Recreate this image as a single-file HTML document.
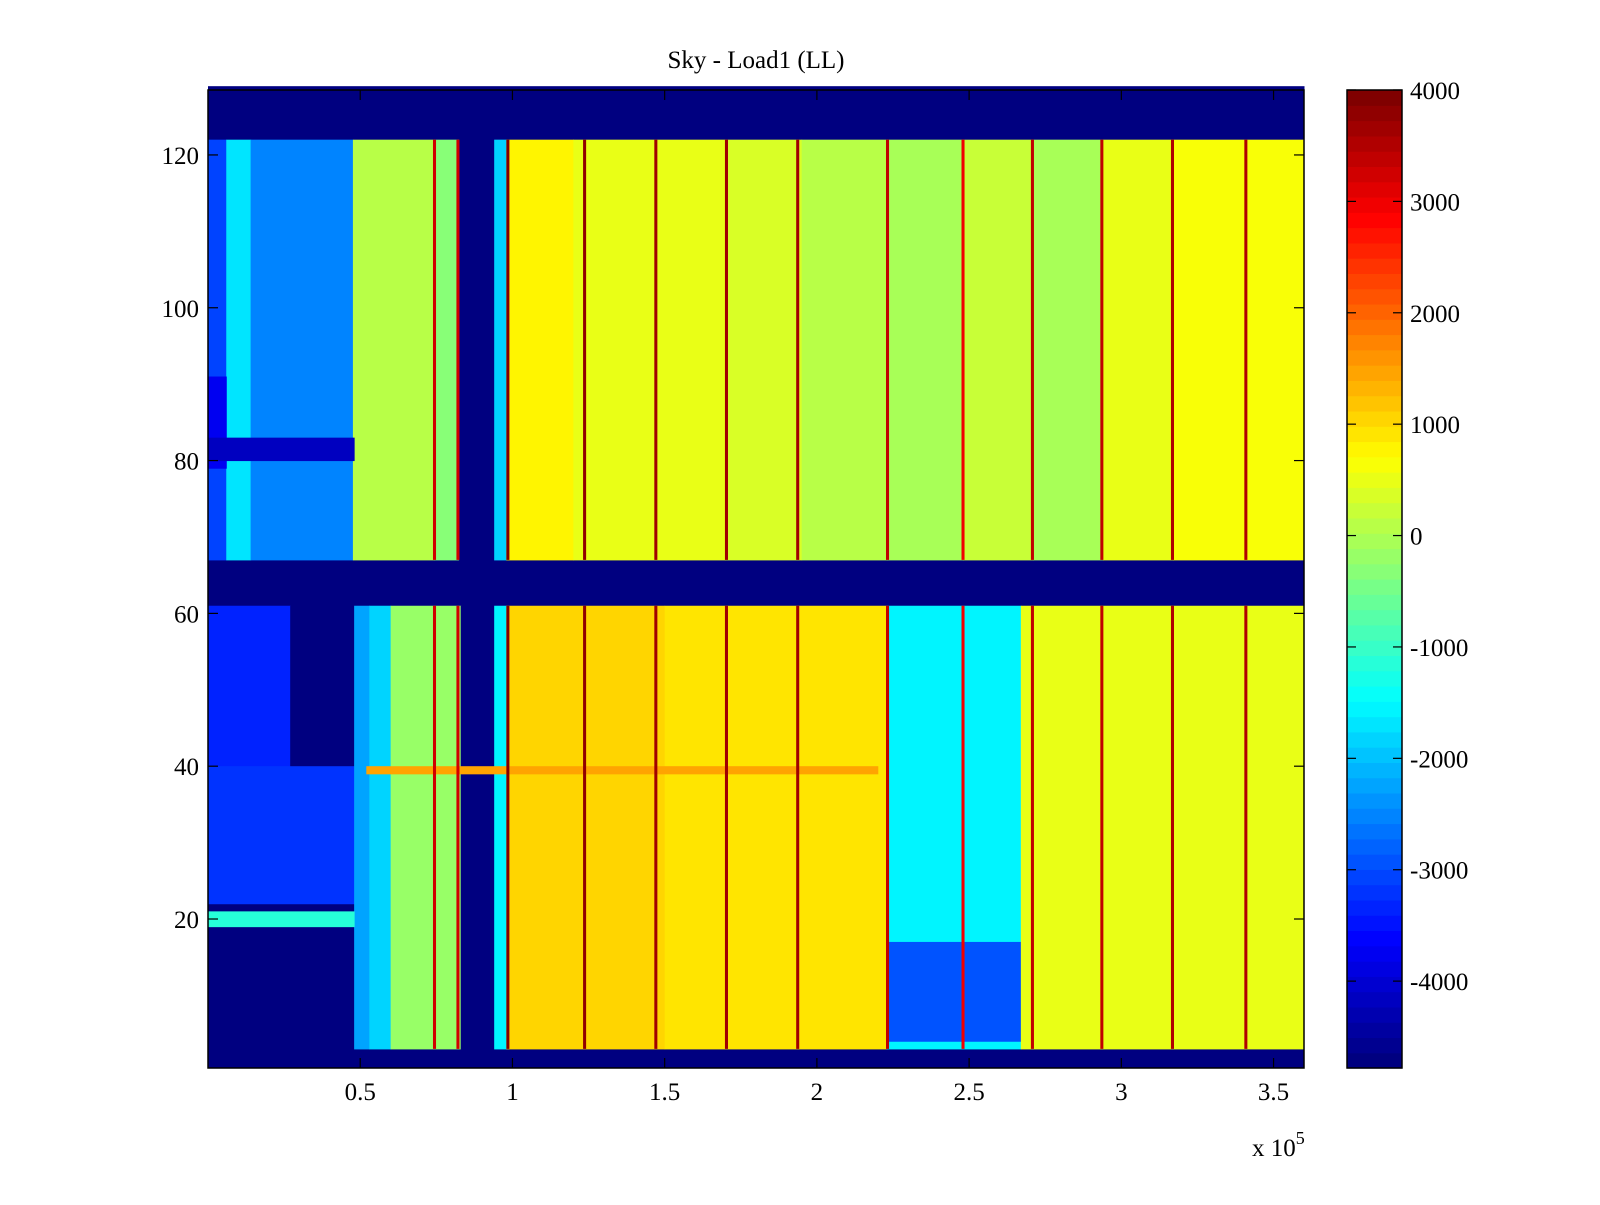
<!DOCTYPE html>
<html><head><meta charset="utf-8">
<style>
body{margin:0;background:#fff;}
svg text{font-family:"Liberation Serif",serif;fill:#000;}
</style></head>
<body>
<svg id="chart" width="1600" height="1200" xmlns="http://www.w3.org/2000/svg">
<text x="756" y="68" font-size="25" text-anchor="middle">Sky - Load1 (LL)</text>
<g id="cells"></g>
<g id="cbar"></g>
<g id="axes"></g>
<text x="1252" y="1156" font-size="25">x 10<tspan dy="-12" font-size="18">5</tspan></text>
</svg>
<script>
// data coordinates: x in units of 1e5, rows 1..128
const xTicks=[0.5,1,1.5,2,2.5,3,3.5];
const xTickLabels=["0.5","1","1.5","2","2.5","3","3.5"];
const yTicks=[20,40,60,80,100,120];
const cTicks=[-4000,-3000,-2000,-1000,0,1000,2000,3000,4000];
const cMin=-4780, cMax=4000;
// patches: [x0, x1, row0, row1, value]
const patchX0=[0,0,0,0,0.06,0.14,0.476,0.744,0.824,0.94,0.98,1.2,1.7,1.95,2.23,2.48,2.71,2.94,3.17,
  0,0,0.27,0,0.48,0.53,0.6,0.83,0.94,0.98,1.5,2.23,2.23,2.67,0.52,0,0,0];
const patchX1=[3.6,3.6,3.6,0.06,0.14,0.476,0.744,0.824,0.94,0.98,1.2,1.7,1.95,2.23,2.48,2.71,2.94,3.17,3.6,
  0.48,0.27,0.48,0.48,0.53,0.6,0.83,0.94,0.98,1.5,2.23,2.67,2.67,3.6,2.2,0.48,0.06,0.48];
const patchR0=[1,61,122,67,67,67,67,67,67,67,67,67,67,67,67,67,67,67,67,
  3,40,40,22,3,3,3,3,3,3,3,3,4,3,39,19,79,80];
const patchR1=[2,66,128,121,121,121,121,121,121,121,121,121,121,121,121,121,121,121,121,
  60,60,60,39,60,60,60,60,60,60,60,60,16,60,39,20,90,82];
const patchV=[-4780,-4780,-4780,-3100,-1700,-2500,100,-300,-4780,-1800,800,550,350,150,0,250,-100,450,650,
  -4780,-3400,-4780,-3200,-2200,-1800,-200,-4780,-1500,1100,850,-1500,-2900,550,1500,-1200,-3800,-4200];
// red vertical stripes
const stripeX=[0.744,0.821,0.985,1.237,1.471,1.703,1.937,2.232,2.48,2.708,2.936,3.168,3.409];
const stripeV=[3300,3300,3900,3800,3700,3700,3700,3400,3000,3400,3400,3500,3500];

const L=208,R=1304,T=90,B=1068;
const sx=x=>L+(x/3.6)*(R-L);
const sy=r=>B-((r-0.5)/128)*(B-T);
const CL=1347,CR=1402;
const sc=v=>B-((v-cMin)/(cMax-cMin))*(B-T);
function jet(t){
  t=Math.max(0,Math.min(1,t));
  t=Math.floor(t*63.999)/63;
  const f=x=>Math.max(0,Math.min(1,x));
  const r=f(1.5-Math.abs(4*t-3)), g=f(1.5-Math.abs(4*t-2)), b=f(1.5-Math.abs(4*t-1));
  return `rgb(${Math.round(r*255)},${Math.round(g*255)},${Math.round(b*255)})`;
}
const col=v=>jet((v-cMin)/(cMax-cMin));
const NS="http://www.w3.org/2000/svg";
function mk(tag,attrs,parent){const e=document.createElementNS(NS,tag);for(const k in attrs)e.setAttribute(k,attrs[k]);parent.appendChild(e);return e;}
const cells=document.getElementById('cells');
mk('rect',{x:L,y:T,width:R-L,height:B-T,fill:col(cMin)},cells);
for(let i=0;i<patchV.length;i++){
  const x0=sx(patchX0[i]),x1=sx(patchX1[i]),y0=sy(patchR1[i]+1),y1=sy(patchR0[i]);
  const e=mk('rect',{x:x0,y:y0,width:x1-x0+0.5,height:y1-y0+0.5,fill:col(patchV[i])},cells);
  
  
}
for(let i=0;i<stripeX.length;i++){
  const x0=sx(stripeX[i]-0.005),x1=sx(stripeX[i]+0.005);
  [[3,60],[67,121]].forEach(b=>{
    const e=mk('rect',{x:x0,y:sy(b[1]+1),width:x1-x0,height:sy(b[0])-sy(b[1]+1),fill:col(stripeV[i])},cells);
    
    
  });
}
const axes=document.getElementById('axes');
mk('rect',{x:L,y:T,width:R-L,height:B-T,fill:'none',stroke:'#000','stroke-width':1.5},axes);
xTicks.forEach((v,i)=>{
  const x=sx(v);
  mk('line',{x1:x,x2:x,y1:B,y2:B-10,stroke:'#000','stroke-width':1.2},axes);
  mk('line',{x1:x,x2:x,y1:T,y2:T+10,stroke:'#000','stroke-width':1.2},axes);
  const t=mk('text',{x:x,y:1100,'font-size':25,'text-anchor':'middle'},axes);
  t.textContent=xTickLabels[i];
  
  
});
yTicks.forEach(v=>{
  const y=sy(v);
  mk('line',{x1:L,x2:L+10,y1:y,y2:y,stroke:'#000','stroke-width':1.2},axes);
  mk('line',{x1:R,x2:R-10,y1:y,y2:y,stroke:'#000','stroke-width':1.2},axes);
  const t=mk('text',{x:199,y:y+9,'font-size':25,'text-anchor':'end'},axes);
  t.textContent=String(v);
  
  
});
const cb=document.getElementById('cbar');
for(let k=0;k<64;k++){
  const v0=cMin+(cMax-cMin)*k/64, v1=cMin+(cMax-cMin)*(k+1)/64;
  const e=mk('rect',{x:CL,y:sc(v1),width:CR-CL,height:sc(v0)-sc(v1)+0.6,fill:col((v0+v1)/2)},cb);
  
  
}
mk('rect',{x:CL,y:T,width:CR-CL,height:B-T,fill:'none',stroke:'#000','stroke-width':1.5},cb);
cTicks.forEach(v=>{
  const y=sc(v);
  mk('line',{x1:CL,x2:CL+9,y1:y,y2:y,stroke:'#000','stroke-width':1.2},cb);
  mk('line',{x1:CR,x2:CR-9,y1:y,y2:y,stroke:'#000','stroke-width':1.2},cb);
  const t=mk('text',{x:1410,y:y+9,'font-size':25},cb);
  t.textContent=String(v);
  
  
});
</script>
</body></html>
